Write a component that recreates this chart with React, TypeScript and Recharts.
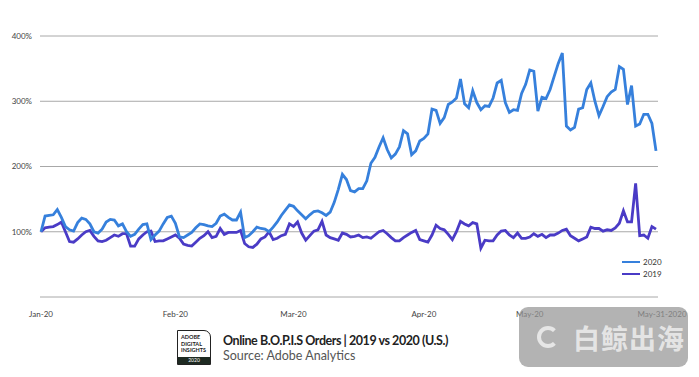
import * as React from "react";
import { LineChart, Line, XAxis, YAxis, CartesianGrid } from "recharts";

// Daily index (Jan 1 = 100%), Jan 1 .. May 31 2020
const orders2020 = [
  100, 124, 125, 126, 134, 122, 108, 103, 101, 114, 121, 119, 112, 100, 98, 104, 115, 119, 118, 109,
  112, 100, 93, 96, 104, 111, 112, 88, 95, 101, 112, 122, 124, 113, 92, 91, 95, 99, 106, 112,
  111, 109, 108, 113, 124, 127, 122, 118, 118, 130, 91, 94, 100, 107, 105, 104, 100, 107, 115, 125,
  133, 141, 139, 132, 126, 120, 126, 131, 132, 129, 125, 130, 145, 165, 188, 180, 163, 161, 166, 166,
  178, 205, 214, 230, 244, 226, 213, 219, 230, 255, 250, 218, 224, 239, 243, 250, 288, 286, 266, 275,
  295, 299, 305, 334, 296, 290, 316, 298, 287, 293, 292, 305, 328, 332, 298, 283, 287, 286, 312, 326,
  348, 346, 285, 306, 304, 318, 338, 358, 374, 262, 256, 260, 288, 290, 318, 328, 300, 278, 292, 307,
  314, 318, 353, 349, 295, 324, 262, 265, 280, 280, 266, 224,
];

const orders2019 = [
  100, 106, 107, 108, 111, 115, 100, 85, 84, 89, 95, 100, 102, 93, 86, 85, 87, 91, 95, 93,
  97, 97, 78, 78, 89, 95, 100, 101, 85, 86, 86, 89, 92, 95, 90, 81, 79, 78, 84, 90,
  94, 100, 91, 93, 105, 96, 99, 99, 99, 102, 82, 77, 76, 81, 89, 92, 100, 88, 90, 94,
  96, 112, 108, 115, 98, 87, 94, 101, 103, 116, 95, 91, 89, 87, 98, 96, 92, 93, 95, 91,
  92, 90, 95, 100, 102, 97, 91, 86, 86, 91, 95, 99, 102, 88, 86, 84, 95, 110, 105, 103,
  96, 88, 100, 116, 112, 109, 114, 112, 75, 87, 86, 86, 95, 101, 102, 95, 91, 98, 90, 90,
  92, 97, 93, 96, 91, 95, 95, 98, 102, 104, 94, 90, 86, 89, 92, 107, 105, 105, 101, 103,
  102, 106, 113, 132, 115, 115, 174, 94, 95, 90, 108, 104,
];

const xTickIndex = [0, 33, 62, 94, 120, 151];
const xTickLabels = ["Jan-20", "Feb-20", "Mar-20", "Apr-20", "May-20", "May-31-2020"];
const yTicks = [0, 100, 200, 300, 400];

const C2020 = "#3680dc";
const C2019 = "#4a3bc6";
const FONT = "Lato, 'Open Sans', sans-serif";

function XTick({ x, y, payload }: any) {
  const i = xTickIndex.indexOf(payload.value);
  const shift = i === xTickIndex.length - 1 ? 6 : 0;
  return (
    <text x={x + shift} y={y + 12} textAnchor="middle" fontSize={8} fill="#444" fontFamily={FONT}>
      {xTickLabels[i]}
    </text>
  );
}

function Badge() {
  return (
    <div
      style={{
        position: "absolute",
        left: 177,
        top: 330,
        width: 34,
        height: 35,
        border: "1.5px solid #222",
        borderTopRightRadius: 7,
        boxSizing: "border-box",
        fontFamily: FONT,
        background: "#fff",
      }}
    >
      <div style={{ fontSize: 5.5, fontWeight: 700, lineHeight: "6.5px", padding: "3px 0 0 3px", color: "#222" }}>
        ADOBE
        <br />
        DIGITAL
        <br />
        INSIGHTS
      </div>
      <div
        style={{
          position: "absolute",
          left: 0,
          right: 0,
          bottom: 0,
          height: 7,
          background: "#1e2a22",
          color: "#fff",
          fontSize: 5,
          lineHeight: "7px",
          textAlign: "center",
        }}
      >
        2020
      </div>
    </div>
  );
}

export default function App() {
  const data = React.useMemo(
    () => orders2020.map((v, i) => ({ i, y2020: v, y2019: orders2019[i] })),
    []
  );

  return (
    <div style={{ position: "absolute", left: 0, top: 0, width: 699, height: 377, background: "#fff", overflow: "hidden" }}>
      <LineChart width={699} height={377} data={data} margin={{ top: 36, right: 41, left: 0, bottom: 50 }}>
        <CartesianGrid stroke="#a8a8a8" vertical={false} />
        <XAxis
          dataKey="i"
          type="number"
          domain={[0, 151]}
          ticks={xTickIndex}
          tick={<XTick />}
          tickLine={false}
          axisLine={false}
          height={30}
          padding={{ left: 1, right: 2 }}
        />
        <YAxis
          domain={[0, 400]}
          ticks={yTicks}
          tickLine={false}
          axisLine={false}
          width={40}
          tick={{ fontSize: 8, fill: "#444", fontFamily: FONT }}
          tickFormatter={(v) => (v === 0 ? "" : `${v}%`)}
        />
        <Line type="linear" dataKey="y2019" stroke={C2019} strokeWidth={2.8} dot={false} isAnimationActive={false} />
        <Line type="linear" dataKey="y2020" stroke={C2020} strokeWidth={2.8} dot={false} isAnimationActive={false} />
      </LineChart>

      {/* legend */}
      <div style={{ position: "absolute", left: 622, top: 256, fontFamily: FONT, fontSize: 8, color: "#333" }}>
        {[
          { name: "2020", color: C2020 },
          { name: "2019", color: C2019 },
        ].map((s) => (
          <div key={s.name} style={{ display: "flex", alignItems: "center", height: 12 }}>
            <span style={{ display: "inline-block", width: 18, height: 2.5, background: s.color, marginRight: 3 }} />
            {s.name}
          </div>
        ))}
      </div>

      <Badge />
      <div style={{ position: "absolute", left: 223, top: 333, fontFamily: FONT, color: "#222" }}>
        <div style={{ fontSize: 12.5, fontWeight: 700, lineHeight: "15px", whiteSpace: "nowrap", letterSpacing: -0.45 }}>
          Online B.O.P.I.S Orders | 2019 vs 2020 (U.S.)
        </div>
        <div style={{ fontSize: 12.5, lineHeight: "15px", color: "#555", whiteSpace: "nowrap" }}>Source: Adobe Analytics</div>
      </div>

      {/* watermark */}
      <div
        style={{
          position: "absolute",
          left: 519,
          top: 307,
          width: 169,
          height: 60,
          borderRadius: 9,
          background: "rgba(150,150,150,0.72)",
          display: "flex",
          alignItems: "center",
          fontFamily: "'Noto Sans CJK SC', sans-serif",
          color: "rgba(235,235,235,0.9)",
        }}
      >
        <div
          style={{
            marginLeft: 18,
            width: 22,
            height: 22,
            borderRadius: "50%",
            border: "4px solid rgba(235,235,235,0.9)",
            borderRightColor: "transparent",
            boxSizing: "border-box",
          }}
        />
        <div style={{ marginLeft: 14, fontSize: 27, fontWeight: 700, letterSpacing: 1 }}>白鲸出海</div>
      </div>
    </div>
  );
}
